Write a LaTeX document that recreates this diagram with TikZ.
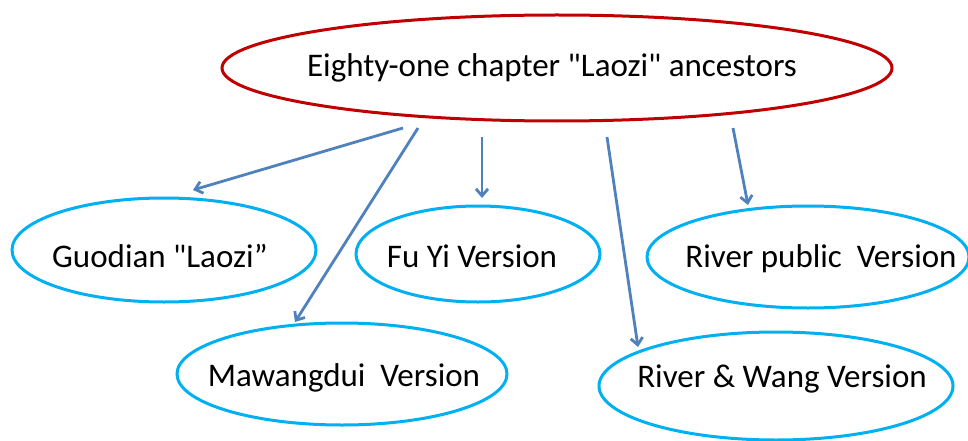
\documentclass[tikz,border=0pt]{standalone}
\usepackage{fontspec}
\setmainfont{Carlito}[Ligatures=TeXOff]
\usetikzlibrary{shapes.geometric,arrows.meta}
\definecolor{topred}{RGB}{192,0,0}
\definecolor{ellblue}{RGB}{0,176,240}
\definecolor{arrblue}{RGB}{79,129,189}
\tikzset{
  topell/.style={ellipse,draw=topred,line width=3pt,inner sep=0pt},
  subell/.style={ellipse,draw=ellblue,line width=3pt,inner sep=0pt},
  txt/.style={anchor=base,inner sep=0pt,font=\fontsize{33}{37}\selectfont},
  arr/.style={draw=arrblue,line width=2.8pt,-{Straight Barb[length=7pt,width=12pt,line width=2.8pt]}}
}
\begin{document}
\begin{tikzpicture}[x=1pt,y=-1pt]
\useasboundingbox (0,0) rectangle (968,441);
\node[topell,minimum width=670pt,minimum height=106pt] (top) at (557,68) {};
\node[subell,minimum width=304pt,minimum height=104pt] (guodian) at (164,250) {};
\node[subell,minimum width=244pt,minimum height=96pt] (fuyi) at (478,254) {};
\node[subell,minimum width=330pt,minimum height=102pt] (mawang) at (342,374) {};
\node[subell,minimum width=322pt,minimum height=102pt] (riverpub) at (808,257) {};
\node[subell,minimum width=354pt,minimum height=108pt] (riverwang) at (776,386) {};
\node[txt] (toptxt) at (552,77) {Eighty-one chapter "Laozi" ancestors};
\node[txt] (guodiantxt) at (160,267) {Guodian "Laozi”};
\node[txt] (fuyitxt) at (472,267) {Fu Yi Version};
\node[txt] (mawangtxt) at (344,386) {Mawangdui\ \ Version};
\node[txt] (riverpubtxt) at (821,267) {River public\ \ Version};
\node[txt] (riverwangtxt) at (782,387) {River \& Wang Version};
\coordinate (s1) at (403,128);
\coordinate (e1) at (193,190);
\coordinate (s2) at (418,128);
\coordinate (e2) at (295,322);
\coordinate (s3) at (482,137);
\coordinate (e3) at (482,198);
\coordinate (s4) at (607,137);
\coordinate (e4) at (638,347);
\coordinate (s5) at (733,128);
\coordinate (e5) at (748,205);
\draw[arr] (s1) -- (e1);
\draw[arr] (s2) -- (e2);
\draw[arr] (s3) -- (e3);
\draw[arr] (s4) -- (e4);
\draw[arr] (s5) -- (e5);
\end{tikzpicture}
\end{document}
